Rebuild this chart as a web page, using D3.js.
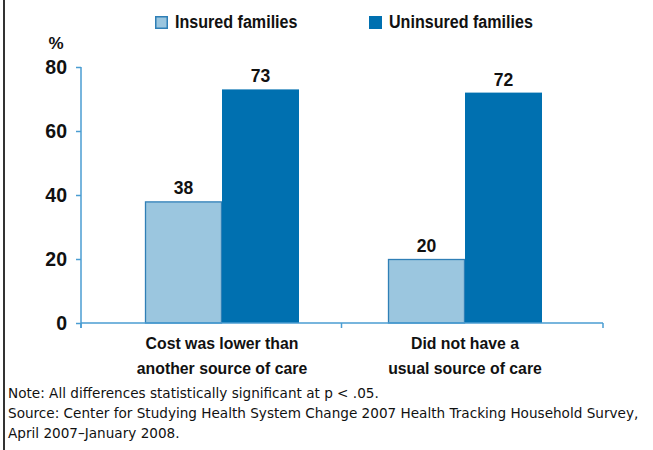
<!DOCTYPE html>
<html>
<head>
<meta charset="utf-8">
<script src="https://cdn.jsdelivr.net/npm/d3@7"></script>
<style>
  html, body { margin: 0; padding: 0; background: #fff; }
  svg { display: block; }
</style>
</head>
<body>
<svg id="chart" width="653" height="450"></svg>
<script>
// Share of families citing each reason, by insurance status (%)
const categories = [
  ["Cost was lower than", "another source of care"],
  ["Did not have a", "usual source of care"]
];
const seriesNames = ["Insured families", "Uninsured families"];
const insured = [38, 20];
const uninsured = [73, 72];
const yTicks = [0, 20, 40, 60, 80];
const notes = [
  "Note: All differences statistically significant at p < .05.",
  "Source: Center for Studying Health System Change 2007 Health Tracking Household Survey,",
  "April 2007\u2013January 2008."
];

const svg = d3.select("#chart");
const W = 653, H = 450;
const colors = ["#9bc6df", "#0070b0"];
const strokes = ["#2f7fb6", "none"];
const axisColor = "#4a9dd2";
const sans = "'Liberation Sans', Arial, sans-serif";
const wide = "'DejaVu Sans', Verdana, sans-serif";

// frame line on the left edge
svg.append("line")
  .attr("x1", 4).attr("x2", 4).attr("y1", 0).attr("y2", H)
  .attr("stroke", "#333").attr("stroke-width", 2);

const plot = { left: 81, right: 603, top: 67, bottom: 323 };

const y = d3.scaleLinear().domain([0, 80]).range([plot.bottom, plot.top]);

const catKeys = categories.map((c, i) => i);
const x0 = d3.scaleBand().domain(catKeys).range([100.5, 586.5]).padding(0);
const x1 = d3.scaleBand().domain([0, 1])
  .range([(x0.bandwidth() - 154) / 2, (x0.bandwidth() + 154) / 2]).padding(0);

const rows = catKeys.map(i => [insured[i], uninsured[i]]);

// bars
const groups = svg.append("g").selectAll("g")
  .data(rows).join("g")
  .attr("transform", (d, i) => `translate(${x0(i)},0)`);

groups.selectAll("rect")
  .data(d => d.map((v, s) => ({ v, s })))
  .join("rect")
  .attr("x", d => x1(d.s) + (d.s === 0 ? 0.5 : 0))
  .attr("y", d => y(d.v) + (d.s === 0 ? 0.5 : 0))
  .attr("width", d => x1.bandwidth() - (d.s === 0 ? 1 : 0))
  .attr("height", d => y(0) - y(d.v) - (d.s === 0 ? 0.5 : 0))
  .attr("fill", d => colors[d.s])
  .attr("stroke", d => strokes[d.s])
  .attr("stroke-width", 1.3);

// value labels
groups.selectAll("text.val")
  .data(d => d.map((v, s) => ({ v, s })))
  .join("text")
  .attr("class", "val")
  .attr("transform", d => `translate(${x1(d.s) + x1.bandwidth() / 2},${y(d.v) - 7}) scale(0.95,1)`)
  .attr("text-anchor", "middle")
  .attr("font-family", sans)
  .attr("font-weight", "bold")
  .attr("font-size", 18.5)
  .attr("fill", "#111")
  .text(d => d.v);

// y axis
const yAxis = d3.axisLeft(y).tickValues(yTicks).tickSize(5).tickPadding(9);
const gy = svg.append("g").attr("transform", `translate(${plot.left},0)`).call(yAxis);
gy.select(".domain").remove();
gy.selectAll(".tick line").attr("stroke", axisColor).attr("stroke-width", 1.5);
gy.selectAll(".tick text")
  .attr("font-family", sans).attr("font-size", 19.5).attr("font-weight", "bold")
  .attr("fill", "#111");
gy.append("line")
  .attr("x1", 0).attr("x2", 0).attr("y1", plot.top).attr("y2", plot.bottom + 5)
  .attr("stroke", axisColor).attr("stroke-width", 1.5);

svg.append("text")
  .attr("x", 56).attr("y", 49)
  .attr("text-anchor", "middle")
  .attr("font-family", sans).attr("font-size", 17).attr("font-weight", "bold")
  .attr("fill", "#111").text("%");

// category axis with dividers between groups
svg.append("line")
  .attr("x1", plot.left).attr("x2", plot.right)
  .attr("y1", plot.bottom).attr("y2", plot.bottom)
  .attr("stroke", axisColor).attr("stroke-width", 1.5);
const dividers = [plot.left, (x0(0) + x0.bandwidth() + x0(1)) / 2 - 2, plot.right];
svg.append("g").selectAll("line").data(dividers).join("line")
  .attr("x1", d => d).attr("x2", d => d)
  .attr("y1", plot.bottom).attr("y2", plot.bottom + 5)
  .attr("stroke", axisColor).attr("stroke-width", 1.5);

const catLines = categories.flatMap((lines, i) => lines.map((t, j) => ({ t, i, j })));
svg.append("g").selectAll("text").data(catLines).join("text")
  .attr("transform", d => `translate(${x0(d.i) + x0.bandwidth() / 2},${349 + d.j * 25}) scale(0.93,1)`)
  .attr("text-anchor", "middle")
  .attr("font-family", sans).attr("font-weight", "bold").attr("font-size", 17)
  .attr("fill", "#111")
  .text(d => d.t);

// legend
const legendX = [155, 369];
const lg = svg.append("g").selectAll("g").data(seriesNames).join("g")
  .attr("transform", (d, i) => `translate(${legendX[i]},16)`);
lg.append("rect")
  .attr("x", 0.75).attr("y", 0.75).attr("width", 11.5).attr("height", 11.5)
  .attr("fill", (d, i) => colors[i])
  .attr("stroke", (d, i) => i === 0 ? strokes[0] : colors[1])
  .attr("stroke-width", 1.5);
lg.append("text")
  .attr("transform", "translate(20,12.3) scale(0.87,1)")
  .attr("font-family", sans).attr("font-weight", "bold").attr("font-size", 18.5)
  .attr("fill", "#111").text(d => d);

// footnotes
svg.append("g").selectAll("text").data(notes).join("text")
  .attr("x", 8).attr("y", (d, i) => 397.5 + i * 20)
  .attr("font-family", wide).attr("font-size", 13.6)
  .attr("fill", "#111").text(d => d);
</script>
</body>
</html>
